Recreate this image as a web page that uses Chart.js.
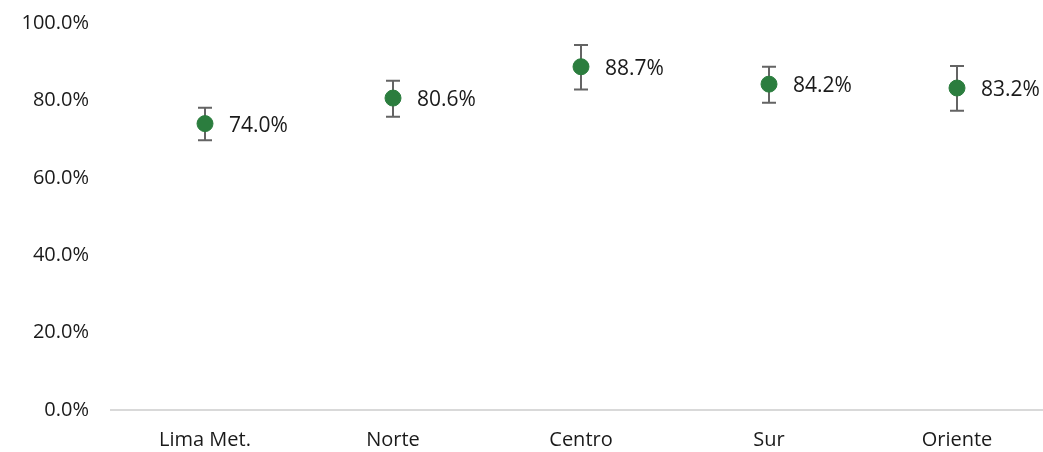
<!DOCTYPE html>
<html lang="es">
<head>
<meta charset="UTF-8">
<title>Regiones</title>
<script src="https://cdn.jsdelivr.net/npm/chart.js"></script>
<style>
  html, body { margin: 0; padding: 0; background: #fff; overflow: hidden; }
  #wrap { width: 1060px; height: 463px; margin-top: -11px; }
</style>
</head>
<body>
<div id="wrap"><canvas id="chart"></canvas></div>
<script>
const regions = ['Lima Met.', 'Norte', 'Centro', 'Sur', 'Oriente'];
const values = [74.0, 80.6, 88.7, 84.2, 83.2];
const errLow = [69.7, 75.8, 82.8, 79.4, 77.3];
const errHigh = [78.1, 85.1, 94.3, 88.7, 88.9];

const FONT = "'Open Sans', sans-serif";

// whiskers drawn under the points
const errorBars = {
  id: 'errorBars',
  beforeDatasetsDraw(chart) {
    const ctx = chart.ctx;
    const x = chart.scales.x, y = chart.scales.y;
    ctx.save();
    ctx.strokeStyle = '#646464';
    ctx.lineWidth = 2;
    regions.forEach((r, i) => {
      const px = x.getPixelForValue(i);
      const top = y.getPixelForValue(errHigh[i]);
      const bot = y.getPixelForValue(errLow[i]);
      ctx.beginPath();
      ctx.moveTo(px, top); ctx.lineTo(px, bot);
      ctx.moveTo(px - 7, top); ctx.lineTo(px + 7, top);
      ctx.moveTo(px - 7, bot); ctx.lineTo(px + 7, bot);
      ctx.stroke();
    });
    ctx.restore();
  }
};

const valueLabels = {
  id: 'valueLabels',
  afterDatasetsDraw(chart) {
    const ctx = chart.ctx;
    const meta = chart.getDatasetMeta(0);
    ctx.save();
    ctx.font = '21px ' + FONT;
    ctx.fillStyle = '#1a1a1a';
    ctx.textAlign = 'left';
    ctx.textBaseline = 'middle';
    meta.data.forEach((pt, i) => {
      ctx.fillText(values[i].toFixed(1) + '%', pt.x + 24, pt.y + 2);
    });
    ctx.restore();
  }
};

new Chart(document.getElementById('chart'), {
  type: 'line',
  data: {
    labels: regions,
    datasets: [{
      data: values,
      showLine: false,
      pointRadius: 8,
      pointHoverRadius: 8,
      pointBackgroundColor: '#2b7d3e',
      pointBorderColor: '#2b7d3e'
    }]
  },
  options: {
    responsive: true,
    maintainAspectRatio: false,
    animation: false,
    layout: { padding: 0 },
    plugins: { legend: { display: false }, tooltip: { enabled: false } },
    scales: {
      x: {
        offset: true,
        grid: { display: false, drawTicks: false },
        border: { color: '#d9d9d9', width: 2 },
        ticks: { color: '#1a1a1a', font: { family: FONT, size: 20 }, padding: 18 },
        afterFit(s) { s.height = 42; }
      },
      y: {
        min: 0, max: 100,
        grid: { display: false, drawTicks: false },
        border: { display: false },
        ticks: {
          stepSize: 20, padding: 22,
          color: '#1a1a1a', font: { family: FONT, size: 20 },
          callback: v => v.toFixed(1) + '%'
        },
        afterFit(s) { s.width = 111; }
      }
    }
  },
  plugins: [errorBars, valueLabels]
});
</script>
</body>
</html>
